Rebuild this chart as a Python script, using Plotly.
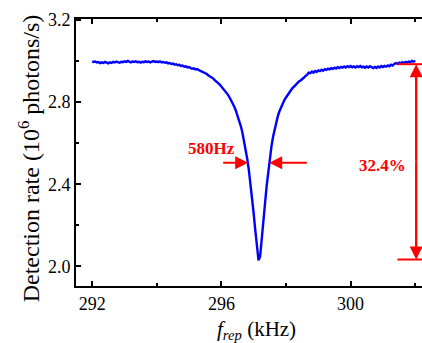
import plotly.graph_objects as go

# ---- data ----
freq_khz = [
    292.00, 292.05, 292.10, 292.15, 292.20, 292.25, 292.30, 292.35, 292.40, 292.45,
    292.50, 292.55, 292.60, 292.65, 292.70, 292.75, 292.80, 292.85, 292.90, 292.95,
    293.00, 293.05, 293.10, 293.15, 293.20, 293.25, 293.30, 293.35, 293.40, 293.45,
    293.50, 293.55, 293.60, 293.65, 293.70, 293.75, 293.80, 293.85, 293.90, 293.95,
    294.00, 294.05, 294.10, 294.15, 294.20, 294.25, 294.30, 294.35, 294.40, 294.45,
    294.50, 294.55, 294.60, 294.65, 294.70, 294.75, 294.80, 294.85, 294.90, 294.95,
    295.00, 295.05, 295.10, 295.15, 295.20, 295.25, 295.30, 295.35, 295.40, 295.45,
    295.50, 295.55, 295.60, 295.65, 295.70, 295.75, 295.80, 295.85, 295.90, 295.95,
    296.00, 296.05, 296.10, 296.15, 296.20, 296.25, 296.30, 296.35, 296.40, 296.45,
    296.50, 296.55, 296.60, 296.65, 296.70, 296.75, 296.80, 296.85, 296.90, 296.95,
    297.00, 297.05, 297.10, 297.15, 297.20, 297.25, 297.30, 297.35, 297.40, 297.45,
    297.50, 297.55, 297.60, 297.65, 297.70, 297.75, 297.80, 297.85, 297.90, 297.95,
    298.00, 298.05, 298.10, 298.15, 298.20, 298.25, 298.30, 298.35, 298.40, 298.45,
    298.50, 298.55, 298.60, 298.65, 298.70, 298.75, 298.80, 298.85, 298.90, 298.95,
    299.00, 299.05, 299.10, 299.15, 299.20, 299.25, 299.30, 299.35, 299.40, 299.45,
    299.50, 299.55, 299.60, 299.65, 299.70, 299.75, 299.80, 299.85, 299.90, 299.95,
    300.00, 300.05, 300.10, 300.15, 300.20, 300.25, 300.30, 300.35, 300.40, 300.45,
    300.50, 300.55, 300.60, 300.65, 300.70, 300.75, 300.80, 300.85, 300.90, 300.95,
    301.00, 301.05, 301.10, 301.15, 301.20, 301.25, 301.30, 301.35, 301.40, 301.45,
    301.50, 301.55, 301.60, 301.65, 301.70, 301.75, 301.80, 301.85, 301.90, 301.95,
    302.00,
]

detection_rate = [
    2.999, 2.996, 2.998, 2.993, 2.995, 2.990, 2.994, 2.991, 2.996, 2.992,
    2.989, 2.994, 2.991, 2.996, 2.993, 2.998, 2.994, 2.992, 2.997, 2.995,
    2.999, 2.996, 3.001, 2.997, 2.994, 2.998, 2.996, 2.999, 2.995, 2.997,
    2.993, 2.997, 2.995, 2.999, 2.996, 2.998, 2.994, 2.997, 3.000, 2.996,
    2.998, 2.995, 2.999, 2.994, 2.996, 2.992, 2.994, 2.989, 2.991, 2.986,
    2.988, 2.983, 2.985, 2.980, 2.982, 2.976, 2.978, 2.973, 2.975, 2.969,
    2.971, 2.966, 2.963, 2.965, 2.959, 2.961, 2.955, 2.952, 2.949, 2.946,
    2.940, 2.937, 2.930, 2.926, 2.918, 2.915, 2.906, 2.901, 2.893, 2.886,
    2.877, 2.869, 2.858, 2.848, 2.837, 2.824, 2.810, 2.795, 2.778, 2.758,
    2.736, 2.712, 2.684, 2.652, 2.615, 2.573, 2.525, 2.470, 2.407, 2.336,
    2.258, 2.176, 2.098, 2.030, 2.050, 2.125, 2.215, 2.305, 2.390, 2.465,
    2.530, 2.585, 2.632, 2.672, 2.706, 2.734, 2.757, 2.778, 2.795, 2.810,
    2.823, 2.836, 2.849, 2.858, 2.869, 2.876, 2.886, 2.892, 2.901, 2.906,
    2.915, 2.919, 2.927, 2.933, 2.944, 2.941, 2.949, 2.944, 2.952, 2.947,
    2.955, 2.951, 2.958, 2.953, 2.961, 2.957, 2.963, 2.960, 2.966, 2.962,
    2.968, 2.964, 2.970, 2.966, 2.972, 2.968, 2.974, 2.969, 2.975, 2.971,
    2.976, 2.970, 2.974, 2.969, 2.975, 2.971, 2.976, 2.970, 2.973, 2.968,
    2.974, 2.969, 2.975, 2.970, 2.966, 2.972, 2.967, 2.974, 2.969, 2.976,
    2.971, 2.977, 2.973, 2.979, 2.975, 2.982, 2.978, 2.986, 2.990, 2.987,
    2.993, 2.989, 2.995, 2.991, 2.996, 2.993, 2.998, 2.995, 3.001, 2.997,
    3.002,
]

x_ticks = [292, 296, 300]
x_tick_labels = ["292", "296", "300"]
y_ticks = [2.0, 2.4, 2.8, 3.2]
y_tick_labels = ["2.0", "2.4", "2.8", "3.2"]

# annotation values
fwhm_level = 2.505
fwhm_left, fwhm_right = 296.83, 297.48
fwhm_left_tail, fwhm_right_tail = 296.01, 298.69
fwhm_label = "580Hz"
fwhm_label_pos = (295.68, 2.575)

depth_x = 302.03
depth_top, depth_bottom = 2.985, 2.034
depth_bar_start = 301.45
depth_label = "32.4%"
depth_label_pos = (301.0, 2.49)

RED = "#FF0000"
SERIF = "Liberation Serif, Times New Roman, serif"

fig = go.Figure()
fig.add_trace(go.Scatter(
    x=freq_khz, y=detection_rate, mode="lines",
    line=dict(color="#0000FF", width=2.4), hoverinfo="skip", showlegend=False,
))

# horizontal bars for depth and the vertical shaft
for yv in (depth_top, depth_bottom):
    fig.add_shape(type="line", x0=depth_bar_start, x1=302.3, y0=yv, y1=yv,
                  xref="x", yref="y", line=dict(color=RED, width=2))
fig.add_shape(type="line", x0=depth_x, x1=depth_x, y0=depth_bottom + 0.03, y1=depth_top - 0.03,
              xref="x", yref="y", line=dict(color=RED, width=2))

depth_mid = (depth_top + depth_bottom) / 2

annots = []
annots.append(dict(x=fwhm_left, y=fwhm_level, ax=fwhm_left_tail, ay=fwhm_level,
                   xref="x", yref="y", axref="x", ayref="y", text="",
                   showarrow=True, arrowhead=2, arrowsize=1.3, arrowwidth=2, arrowcolor=RED))
annots.append(dict(x=fwhm_right, y=fwhm_level, ax=fwhm_right_tail, ay=fwhm_level,
                   xref="x", yref="y", axref="x", ayref="y", text="",
                   showarrow=True, arrowhead=2, arrowsize=1.3, arrowwidth=2, arrowcolor=RED))
annots.append(dict(x=fwhm_label_pos[0], y=fwhm_label_pos[1], xref="x", yref="y",
                   text="<b>%s</b>" % fwhm_label, showarrow=False,
                   font=dict(family=SERIF, size=17, color=RED)))
for tip in (depth_top, depth_bottom):
    annots.append(dict(x=depth_x, y=tip, ax=depth_x, ay=depth_mid,
                       xref="x", yref="y", axref="x", ayref="y", text="",
                       showarrow=True, arrowhead=2, arrowsize=1.3, arrowwidth=2,
                       arrowcolor=RED))
annots.append(dict(x=depth_label_pos[0], y=depth_label_pos[1], xref="x", yref="y",
                   text="<b>%s</b>" % depth_label, showarrow=False,
                   font=dict(family=SERIF, size=17, color=RED)))
annots.append(dict(x=-0.136, y=0.478, xref="paper", yref="paper",
                   text="Detection rate (10<sup>6</sup> photons/s)", textangle=-90,
                   showarrow=False, xanchor="center", yanchor="middle",
                   font=dict(family=SERIF, size=24, color="black")))
annots.append(dict(x=0.523, y=-0.108, xref="paper", yref="paper",
                   text="<i>f</i><sub><i>rep</i></sub> (kHz)",
                   showarrow=False, xanchor="center", yanchor="top",
                   font=dict(family=SERIF, size=21, color="black")))

fig.update_layout(
    width=422, height=343,
    margin=dict(l=76, r=0, t=19, b=57),
    paper_bgcolor="white", plot_bgcolor="white",
    annotations=annots,
    font=dict(family=SERIF, color="black"),
)
fig.update_xaxes(
    range=[291.5, 302.21], tickmode="array", tickvals=x_ticks, ticktext=x_tick_labels,
    ticks="inside", ticklen=5, tickwidth=1.5, tickcolor="black",
    showline=True, linecolor="black", linewidth=2, mirror="ticks",
    showgrid=False, zeroline=False,
    tickfont=dict(family=SERIF, size=18, color="black"),
    minor=dict(tickmode="array", tickvals=[294, 298, 302], ticks="inside", ticklen=3,
               tickwidth=1.5, tickcolor="black", showgrid=False),
)
fig.update_yaxes(
    range=[1.905, 3.205], tickmode="array", tickvals=y_ticks, ticktext=y_tick_labels,
    ticks="inside", ticklen=5, tickwidth=1.5, tickcolor="black",
    showline=True, linecolor="black", linewidth=2, mirror=False,
    showgrid=False, zeroline=False,
    tickfont=dict(family=SERIF, size=18, color="black"),
    minor=dict(tickmode="array", tickvals=[2.2, 2.6, 3.0], ticks="inside", ticklen=3,
               tickwidth=1.5, tickcolor="black", showgrid=False),
)

# remove the default page margin so the 422x343 figure fills the window exactly
fig.write_html(
    "out.html",
    config={"displayModeBar": False},
    post_script="document.body.style.margin='0';document.body.style.overflow='hidden';",
)
